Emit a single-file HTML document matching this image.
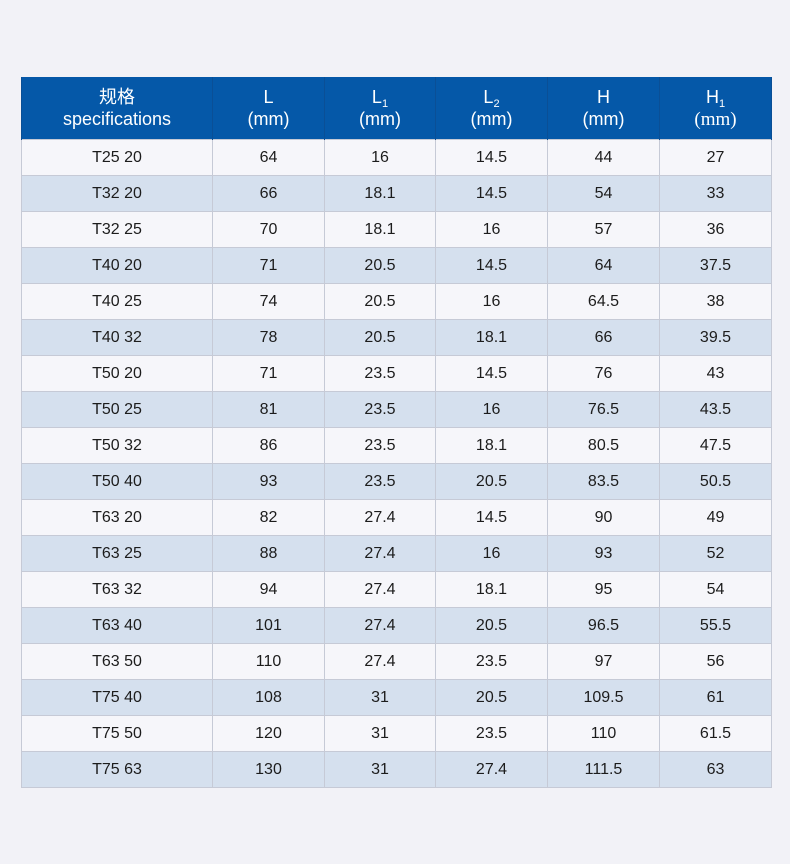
<!DOCTYPE html>
<html><head><meta charset="utf-8"><style>
html,body{margin:0;padding:0}
body{width:790px;height:864px;background:#f2f2f7;position:relative;overflow:hidden;font-family:"Liberation Sans","Noto Sans CJK SC",sans-serif}
table{position:absolute;left:21px;top:77px;border-collapse:collapse;table-layout:fixed;width:750px}
td,th{text-align:center;padding:0;font-weight:normal}
th{background:#0558a8;color:#fff;height:62px;font-size:18px;line-height:22px;border-left:1px solid #0a4f96;border-right:1px solid #0a4f96}
td{height:35px;font-size:16px;color:#1c1c1c;border:1px solid #c6cad6}
tr.a td{background:#f6f6fa}
tr.b td{background:#d5e0ee}
sub{font-size:11px;vertical-align:-4px;line-height:0}
.ser{font-family:"Liberation Serif",serif;font-size:19px}
</style></head><body>
<table>
<colgroup><col style="width:191px"><col style="width:112px"><col style="width:111px"><col style="width:112px"><col style="width:112px"><col style="width:112px"></colgroup>
<tr><th>规格<br>specifications</th><th>L<br>(mm)</th><th>L<sub>1</sub><br>(mm)</th><th>L<sub>2</sub><br>(mm)</th><th>H<br>(mm)</th><th>H<sub>1</sub><br><span class="ser">(mm)</span></th></tr>
<tr class="a"><td>T25 20</td><td>64</td><td>16</td><td>14.5</td><td>44</td><td>27</td></tr>
<tr class="b"><td>T32 20</td><td>66</td><td>18.1</td><td>14.5</td><td>54</td><td>33</td></tr>
<tr class="a"><td>T32 25</td><td>70</td><td>18.1</td><td>16</td><td>57</td><td>36</td></tr>
<tr class="b"><td>T40 20</td><td>71</td><td>20.5</td><td>14.5</td><td>64</td><td>37.5</td></tr>
<tr class="a"><td>T40 25</td><td>74</td><td>20.5</td><td>16</td><td>64.5</td><td>38</td></tr>
<tr class="b"><td>T40 32</td><td>78</td><td>20.5</td><td>18.1</td><td>66</td><td>39.5</td></tr>
<tr class="a"><td>T50 20</td><td>71</td><td>23.5</td><td>14.5</td><td>76</td><td>43</td></tr>
<tr class="b"><td>T50 25</td><td>81</td><td>23.5</td><td>16</td><td>76.5</td><td>43.5</td></tr>
<tr class="a"><td>T50 32</td><td>86</td><td>23.5</td><td>18.1</td><td>80.5</td><td>47.5</td></tr>
<tr class="b"><td>T50 40</td><td>93</td><td>23.5</td><td>20.5</td><td>83.5</td><td>50.5</td></tr>
<tr class="a"><td>T63 20</td><td>82</td><td>27.4</td><td>14.5</td><td>90</td><td>49</td></tr>
<tr class="b"><td>T63 25</td><td>88</td><td>27.4</td><td>16</td><td>93</td><td>52</td></tr>
<tr class="a"><td>T63 32</td><td>94</td><td>27.4</td><td>18.1</td><td>95</td><td>54</td></tr>
<tr class="b"><td>T63 40</td><td>101</td><td>27.4</td><td>20.5</td><td>96.5</td><td>55.5</td></tr>
<tr class="a"><td>T63 50</td><td>110</td><td>27.4</td><td>23.5</td><td>97</td><td>56</td></tr>
<tr class="b"><td>T75 40</td><td>108</td><td>31</td><td>20.5</td><td>109.5</td><td>61</td></tr>
<tr class="a"><td>T75 50</td><td>120</td><td>31</td><td>23.5</td><td>110</td><td>61.5</td></tr>
<tr class="b"><td>T75 63</td><td>130</td><td>31</td><td>27.4</td><td>111.5</td><td>63</td></tr>
</table>
</body></html>
